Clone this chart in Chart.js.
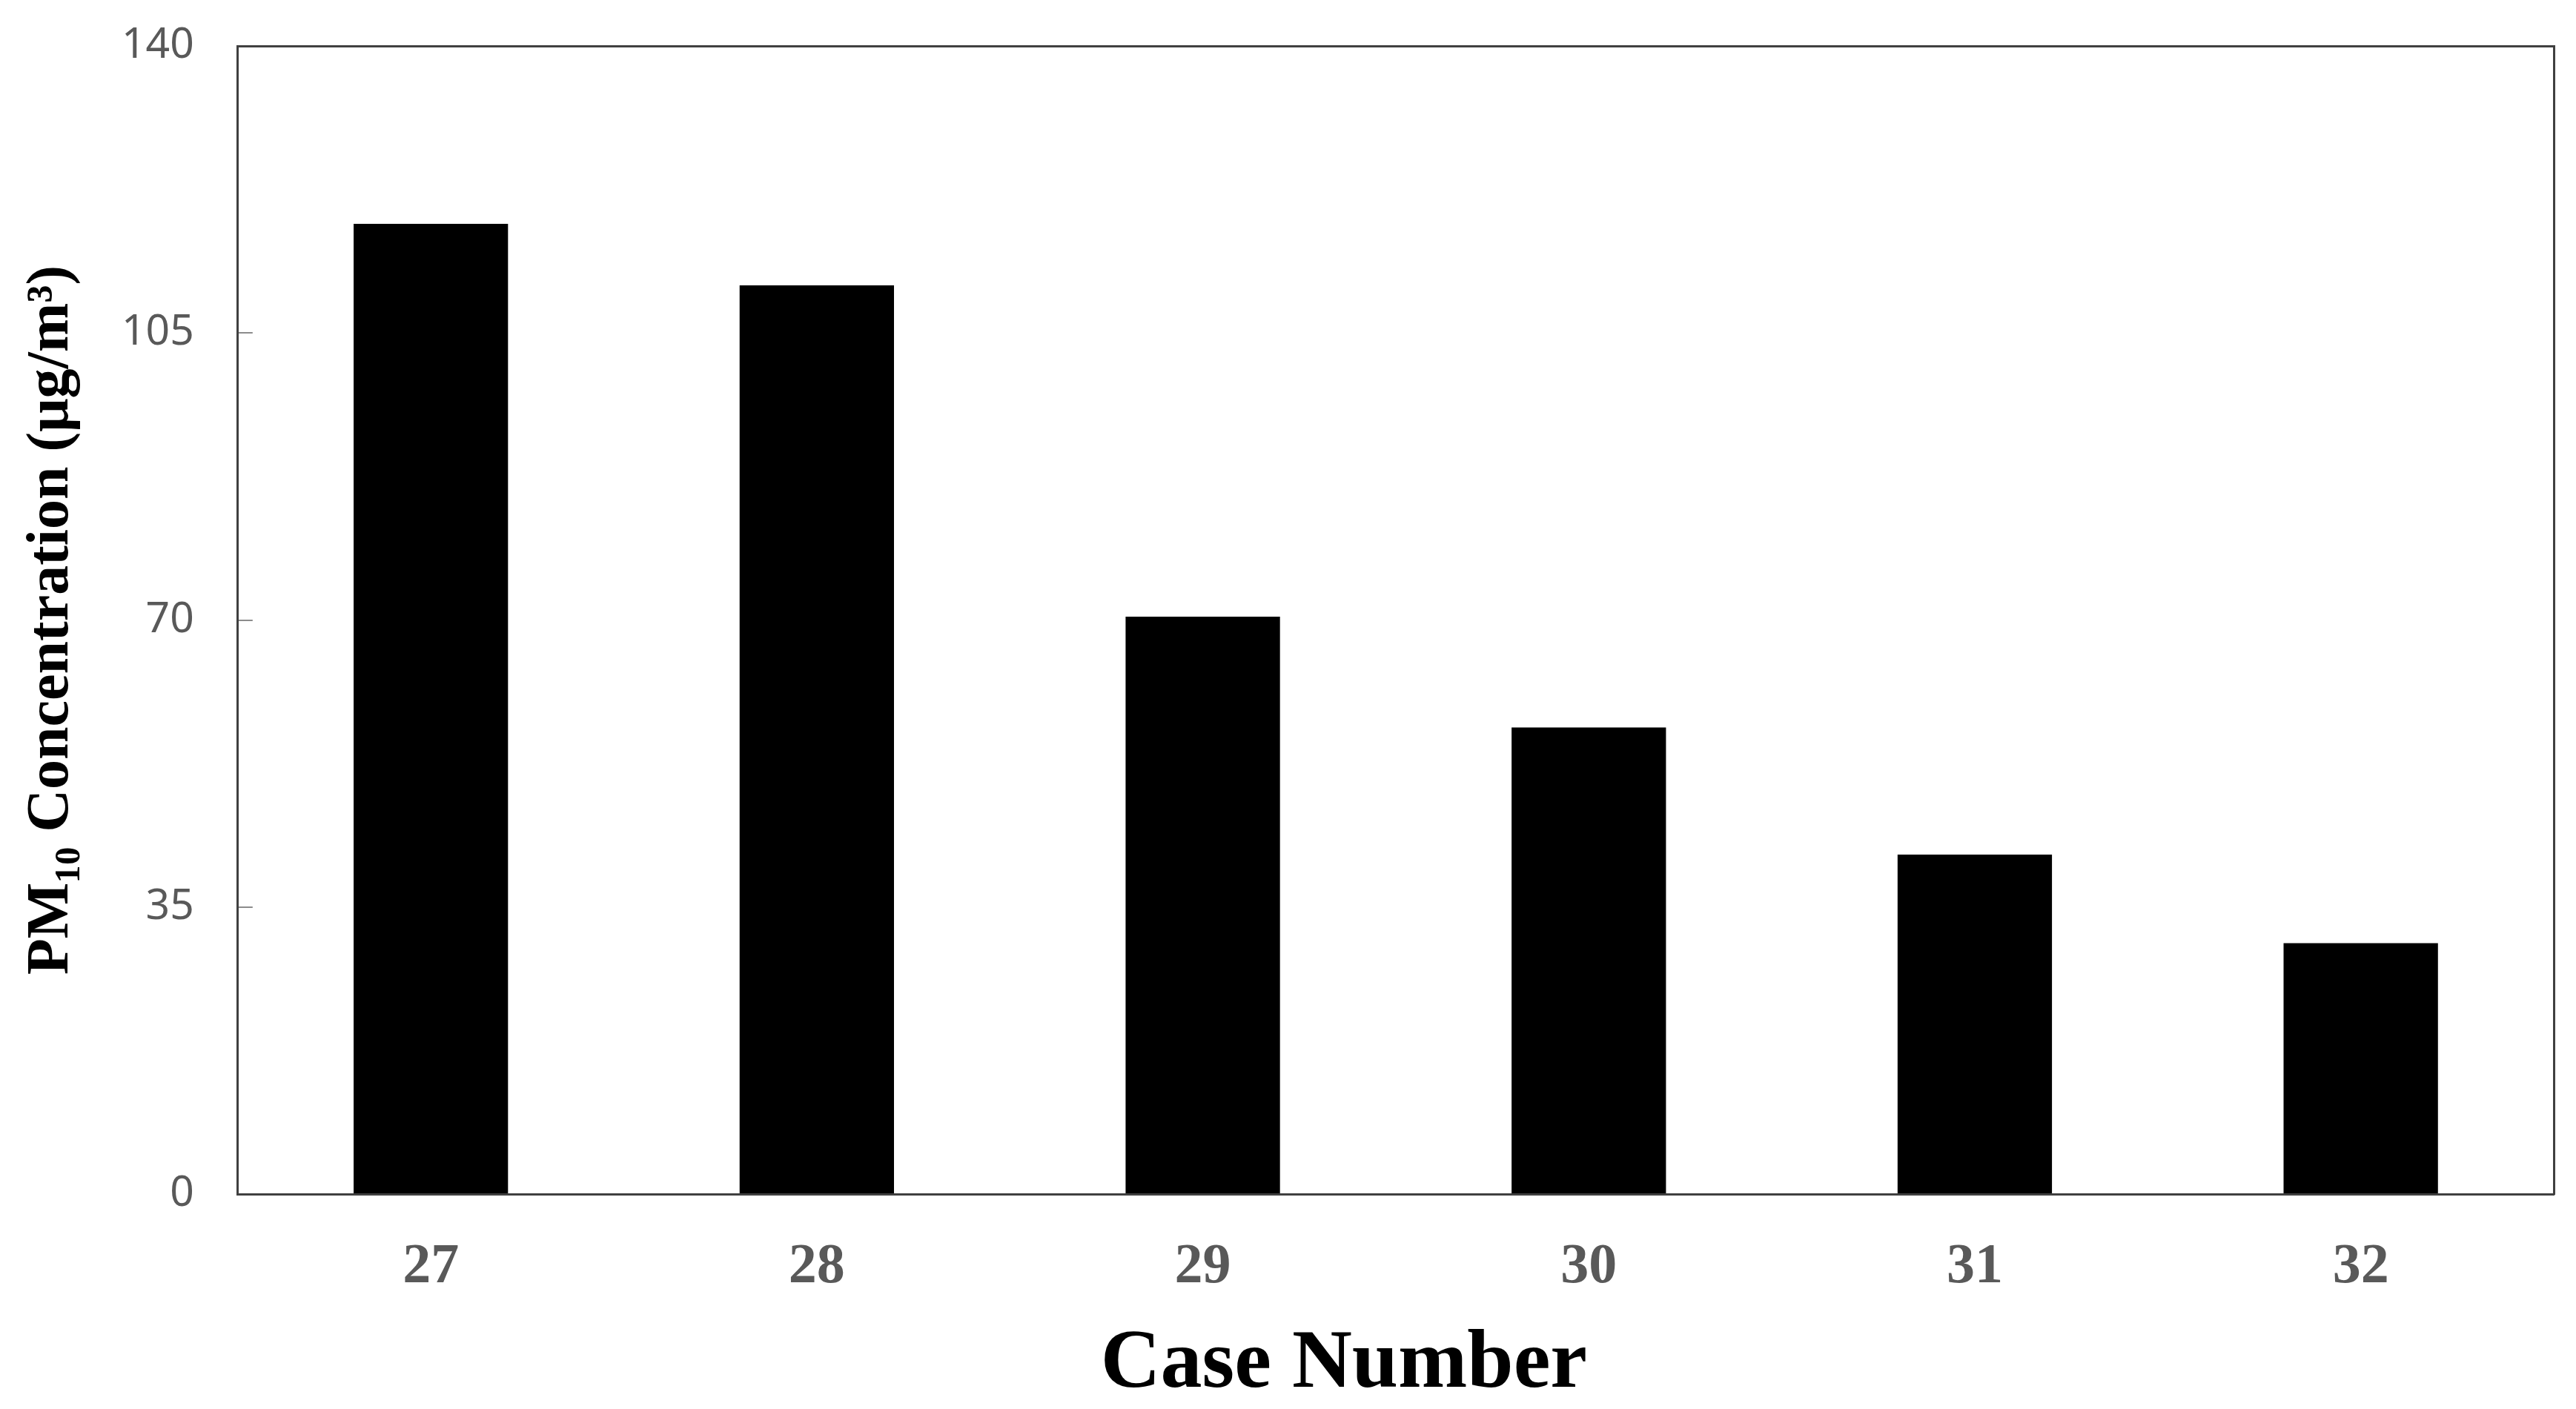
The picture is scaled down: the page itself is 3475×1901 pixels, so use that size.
<!DOCTYPE html>
<html>
<head>
<meta charset="utf-8">
<script src="https://cdn.jsdelivr.net/npm/chart.js@4.4.1/dist/chart.umd.min.js"></script>
<style>
  html, body { margin: 0; padding: 0; background: #ffffff; }
  #wrap { width: 3475px; height: 1901px; position: relative; }
</style>
</head>
<body>
<div id="wrap"><canvas id="pmChart"></canvas></div>
<script>
// PM10 concentration per case
const caseNumbers = ['27', '28', '29', '30', '31', '32'];
const pm10Values = [118.3, 110.8, 70.4, 56.9, 41.4, 30.6];
const yTicks = [0, 35, 70, 105, 140];

const serif = "'Times New Roman', 'Liberation Serif', 'DejaVu Serif', serif";
const axisColour = '#404040';
const labelColour = '#595959';

new Chart(document.getElementById('pmChart'), {
    type: 'bar',
    data: {
        labels: caseNumbers,
        datasets: [{
            data: pm10Values,
            backgroundColor: '#000000',
            borderWidth: 0,
            barPercentage: 0.4,
            categoryPercentage: 1.0
        }]
    },
    options: {
        responsive: true,
        maintainAspectRatio: false,
        animation: false,
        layout: {
            padding: { top: 62, right: 30, bottom: 0, left: 0 }
        },
        plugins: {
            legend: { display: false },
            tooltip: { enabled: false }
        },
        scales: {
            x: {
                position: 'bottom',
                grid: { display: false, drawTicks: false },
                border: { display: true, color: axisColour, width: 3 },
                ticks: {
                    color: labelColour,
                    padding: 61,
                    font: { family: serif, size: 76, weight: 'bold', lineHeight: 1.0 }
                },
                title: {
                    display: true,
                    text: 'Case Number\u00a0\u00a0\u00a0\u00a0\u00a0',
                    color: '#000000',
                    padding: { top: -23, bottom: 3 },
                    font: { family: serif, size: 112, weight: 'bold', lineHeight: 1.0 }
                }
            },
            y: {
                position: 'left',
                min: 0,
                max: 140,
                afterBuildTicks: function (axis) {
                    axis.ticks = yTicks.map(v => ({ value: v }));
                },
                // the big tick padding should not push the plot down
                afterFit: function (axis) {
                    axis.paddingTop = 0;
                    axis.paddingBottom = 0;
                },
                grid: {
                    display: true,
                    drawOnChartArea: false,
                    drawTicks: true,
                    tickLength: -20,
                    color: '#8c8c8c',
                    lineWidth: 2
                },
                border: { display: true, color: axisColour, width: 3 },
                ticks: {
                    color: labelColour,
                    padding: 79,
                    font: { family: "'Noto Sans', Roboto, sans-serif", size: 57, lineHeight: 1.2 }
                },
                title: {
                    display: true,
                    text: 'PM\u2081\u2080 Concentration (\u03bcg/m\u00b3)',
                    color: '#000000',
                    padding: { top: 30, bottom: -25 },
                    font: { family: serif, size: 80, weight: 'bold', lineHeight: 1.0 }
                }
            },
            xTop: {
                type: 'category',
                position: 'top',
                labels: caseNumbers,
                grid: { display: false, drawTicks: false },
                ticks: { display: false },
                border: { display: true, color: axisColour, width: 3 }
            },
            yRight: {
                type: 'linear',
                position: 'right',
                min: 0,
                max: 140,
                grid: { display: false, drawTicks: false },
                ticks: { display: false },
                border: { display: true, color: axisColour, width: 3 }
            }
        }
    }
});
</script>
</body>
</html>
